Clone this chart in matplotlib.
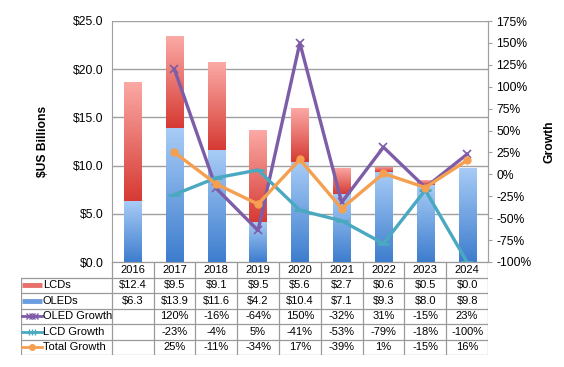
import numpy as np
import matplotlib
matplotlib.use("Agg")
import matplotlib.pyplot as plt
from matplotlib.colors import LinearSegmentedColormap

plt.rcParams['font.family'] = ['Liberation Sans', 'DejaVu Sans']

years = ['2016', '2017', '2018', '2019', '2020', '2021', '2022', '2023', '2024']
lcds = [12.4, 9.5, 9.1, 9.5, 5.6, 2.7, 0.6, 0.5, 0.0]
oleds = [6.3, 13.9, 11.6, 4.2, 10.4, 7.1, 9.3, 8.0, 9.8]
oled_growth = [np.nan, 120, -16, -64, 150, -32, 31, -15, 23]
lcd_growth = [np.nan, -23, -4, 5, -41, -53, -79, -18, -100]
total_growth = [np.nan, 25, -11, -34, 17, -39, 1, -15, 16]

lcd_lbl = ['$12.4', '$9.5', '$9.1', '$9.5', '$5.6', '$2.7', '$0.6', '$0.5', '$0.0']
oled_lbl = ['$6.3', '$13.9', '$11.6', '$4.2', '$10.4', '$7.1', '$9.3', '$8.0', '$9.8']
oledg_lbl = ['', '120%', '-16%', '-64%', '150%', '-32%', '31%', '-15%', '23%']
lcdg_lbl = ['', '-23%', '-4%', '5%', '-41%', '-53%', '-79%', '-18%', '-100%']
totg_lbl = ['', '25%', '-11%', '-34%', '17%', '-39%', '1%', '-15%', '16%']

C_PURPLE = '#7d5ca8'
C_TEAL = '#4aa9c0'
C_ORANGE = '#f5a050'
GRID = '#a0a0a0'

W, H = 564, 367
fig = plt.figure(figsize=(W / 100, H / 100), dpi=100)

L, R, B, T = 111.7, 488, 262, 21
ax = fig.add_axes([L / W, 1 - B / H, (R - L) / W, (B - T) / H])
x = np.arange(len(years))
bw = 0.41

ax.set_xlim(-0.5, len(years) - 0.5)
ax.set_ylim(0, 25)
ax.set_yticks(np.arange(0, 26, 5))
ax.set_yticklabels([f'${v:.1f}' for v in np.arange(0, 26, 5)], fontsize=8.7)
ax.yaxis.grid(True, color=GRID, lw=1)
ax.set_axisbelow(True)
ax.tick_params(axis='y', length=0, pad=6)
ax.set_xticks([])
for s in ['top', 'bottom']:
    ax.spines[s].set_visible(False)
for s in ['left', 'right']:
    ax.spines[s].set_color(GRID)

blue_cm = LinearSegmentedColormap.from_list('b', ['#3d7dce', '#a8ccf6'])
red_cm = LinearSegmentedColormap.from_list('r', ['#d63a33', '#fbaaa6'])
grad = np.linspace(0, 1, 256).reshape(-1, 1)

bars_o = ax.bar(x, oleds, bw, color='none', zorder=2)
bars_l = ax.bar(x, lcds, bw, bottom=oleds, color='none', zorder=2)
for bars, cm in [(bars_o, blue_cm), (bars_l, red_cm)]:
    for b in bars:
        h = b.get_height()
        if h <= 0:
            continue
        x0 = b.get_x()
        y0 = b.get_y()
        im = ax.imshow(grad, cmap=cm, origin='lower', aspect='auto',
                       extent=[x0, x0 + b.get_width(), y0, y0 + h], zorder=2)
        im.set_clip_path(b)
ax.set_xlim(-0.5, len(years) - 0.5)
ax.set_ylim(0, 25)
ax.set_ylabel('$US Billions', fontsize=8.7, fontweight='bold', labelpad=17)

ax2 = ax.twinx()
ax2.set_ylim(-100, 175)
ax2.set_yticks(np.arange(-100, 176, 25))
ax2.set_yticklabels([f'{v}%' for v in range(-100, 176, 25)], fontsize=8.7)
ax2.tick_params(axis='y', length=3, color=GRID, pad=3)
for s in ['top', 'bottom', 'left']:
    ax2.spines[s].set_visible(False)
ax2.spines['right'].set_color(GRID)
ax2.set_ylabel('Growth', fontsize=8.7, fontweight='bold', labelpad=9)

ax2.plot(x, oled_growth, color=C_PURPLE, lw=2.4, marker='x', ms=6, mew=1.2, zorder=3)
ax2.plot(x, lcd_growth, color=C_TEAL, lw=2.4, marker='_', ms=8, mew=2, zorder=4)
ax2.plot(x, total_growth, color=C_ORANGE, lw=2.4, marker='o', ms=5, zorder=5)

# table
TL, TB = 21, 355
tax = fig.add_axes([TL / W, 1 - TB / H, (R - TL) / W, (TB - B) / H])
unit = (R - L) / len(years)
xl = -0.5 - (L - TL) / unit
tax.set_xlim(xl, len(years) - 0.5)
tax.set_ylim(6, 0)
tax.axis('off')
TG = '#9a9a9a'
tax.plot([-0.5, len(years) - 0.5], [0, 0], color=TG, lw=0.9)
for r in range(1, 7):
    tax.plot([xl, len(years) - 0.5], [r, r], color=TG, lw=0.9)
tax.plot([xl, xl], [1, 6], color=TG, lw=0.9)
for k in range(len(years) + 1):
    tax.plot([k - 0.5, k - 0.5], [0, 6], color=TG, lw=0.9)

fs = 8
for i, yv in enumerate(years):
    tax.text(i, 0.5, yv, ha='center', va='center', fontsize=fs)
rows = [lcd_lbl, oled_lbl, oledg_lbl, lcdg_lbl, totg_lbl]
for r, row in enumerate(rows):
    for i, t in enumerate(row):
        if t:
            tax.text(i, r + 1.5, t, ha='center', va='center', fontsize=fs)

names = ['LCDs', 'OLEDs', 'OLED Growth', 'LCD Growth', 'Total Growth']
kx0 = xl + 0.03
kx1 = -0.5 - (L - 42) / unit
tx = -0.5 - (L - 43) / unit
tax.plot([kx0, kx1], [1.5, 1.5], color='#e8706a', lw=3.5, solid_capstyle='butt')
tax.plot([kx0, kx1], [2.5, 2.5], color='#6a9ee0', lw=3.5, solid_capstyle='butt')
km = (kx0 + kx1) / 2
tax.plot([kx0, kx1], [3.5, 3.5], color=C_PURPLE, lw=2)
tax.plot([km - 0.08, km, km + 0.08], [3.5] * 3, ls='none', marker='x', ms=4, mew=1, color=C_PURPLE)
tax.plot([kx0, kx1], [4.5, 4.5], color=C_TEAL, lw=2)
tax.plot([km - 0.08, km, km + 0.08], [4.5] * 3, ls='none', marker='+', ms=4, mew=1, color=C_TEAL)
tax.plot([kx0, kx1], [5.5, 5.5], color=C_ORANGE, lw=2)
tax.plot([km], [5.5], ls='none', marker='o', ms=4, color=C_ORANGE)
for r, n in enumerate(names):
    tax.text(tx, r + 1.5, n, ha='left', va='center', fontsize=fs)

fig.savefig('out.png', dpi=100)
